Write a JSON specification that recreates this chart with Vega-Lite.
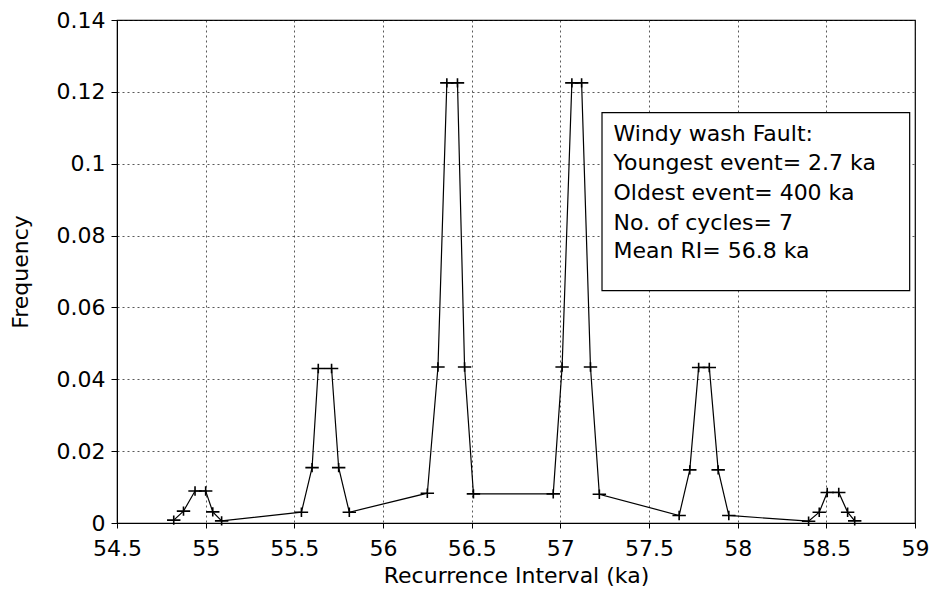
{
  "$schema": "https://vega.github.io/schema/vega-lite/v6.json",
  "autosize": "none",
  "width": 798,
  "height": 503,
  "padding": {"left": 117, "top": 20, "right": 16, "bottom": 72},
  "background": "white",
  "config": {
    "view": {"stroke": "black", "strokeWidth": 1.2},
    "font": "DejaVu Sans",
    "axis": {
      "labelFont": "DejaVu Sans",
      "titleFont": "DejaVu Sans",
      "labelFontSize": 22,
      "titleFontSize": 22,
      "titleFontWeight": "normal",
      "labelColor": "black",
      "titleColor": "black",
      "domainColor": "black",
      "tickColor": "black",
      "gridColor": "#222",
      "gridDash": [2, 3],
      "gridWidth": 1,
      "gridOpacity": 0.75
    }
  },
  "datasets": {
    "curve": [
      {"ri": 54.82, "freq": 0.0008},
      {"ri": 54.875, "freq": 0.0033},
      {"ri": 54.94, "freq": 0.0089},
      {"ri": 55.0, "freq": 0.0089},
      {"ri": 55.04, "freq": 0.0031},
      {"ri": 55.09, "freq": 0.0006},
      {"ri": 55.54, "freq": 0.003},
      {"ri": 55.6, "freq": 0.0154},
      {"ri": 55.635, "freq": 0.043},
      {"ri": 55.71, "freq": 0.043},
      {"ri": 55.75, "freq": 0.0154},
      {"ri": 55.81, "freq": 0.003},
      {"ri": 56.25, "freq": 0.0083},
      {"ri": 56.31, "freq": 0.0434},
      {"ri": 56.36, "freq": 0.1225},
      {"ri": 56.42, "freq": 0.1225},
      {"ri": 56.46, "freq": 0.0434},
      {"ri": 56.51, "freq": 0.0081},
      {"ri": 56.96, "freq": 0.0081},
      {"ri": 57.01, "freq": 0.0434},
      {"ri": 57.065, "freq": 0.1225},
      {"ri": 57.12, "freq": 0.1225},
      {"ri": 57.17, "freq": 0.0434},
      {"ri": 57.22, "freq": 0.008},
      {"ri": 57.67, "freq": 0.0021},
      {"ri": 57.73, "freq": 0.0148},
      {"ri": 57.78, "freq": 0.0433},
      {"ri": 57.84, "freq": 0.0433},
      {"ri": 57.89, "freq": 0.0148},
      {"ri": 57.95, "freq": 0.0021},
      {"ri": 58.4, "freq": 0.0005},
      {"ri": 58.46, "freq": 0.003},
      {"ri": 58.505, "freq": 0.0085},
      {"ri": 58.57, "freq": 0.0085},
      {"ri": 58.62, "freq": 0.003},
      {"ri": 58.66, "freq": 0.0006}
    ],
    "box": [
      {"x1": 57.235, "x2": 58.97, "y1": 0.0647, "y2": 0.1142}
    ],
    "notes": [
      {"x": 57.3, "y": 0.1083, "label": "Windy wash Fault:"},
      {"x": 57.3, "y": 0.1003, "label": "Youngest event= 2.7 ka"},
      {"x": 57.3, "y": 0.0919, "label": "Oldest event= 400 ka"},
      {"x": 57.3, "y": 0.0836, "label": "No. of cycles= 7"},
      {"x": 57.3, "y": 0.0758, "label": "Mean RI= 56.8 ka"}
    ]
  },
  "layer": [
    {
      "data": {"name": "curve"},
      "mark": {"type": "line", "color": "black", "strokeWidth": 1.2},
      "encoding": {
        "x": {
          "field": "ri", "type": "quantitative",
          "scale": {"domain": [54.5, 59], "nice": false, "zero": false},
          "axis": {
            "title": "Recurrence Interval (ka)",
            "values": [54.5, 55, 55.5, 56, 56.5, 57, 57.5, 58, 58.5, 59],
            "format": "~g",
            "tickSize": 5,
            "labelPadding": 10,
            "titlePadding": 6,
            "labelFlush": false
          }
        },
        "y": {
          "field": "freq", "type": "quantitative",
          "scale": {"domain": [0, 0.14], "nice": false},
          "axis": {
            "title": "Frequency",
            "values": [0, 0.02, 0.04, 0.06, 0.08, 0.1, 0.12, 0.14],
            "format": "~g",
            "tickSize": 6,
            "labelPadding": 6,
            "titlePadding": 24,
            "labelFlush": false
          }
        }
      }
    },
    {
      "data": {"name": "curve"},
      "mark": {"type": "point", "shape": "M-1,0L1,0M0,-0.7L0,0.7", "filled": false, "stroke": "black", "strokeWidth": 1.6, "size": 180, "opacity": 1},
      "encoding": {
        "x": {"field": "ri", "type": "quantitative"},
        "y": {"field": "freq", "type": "quantitative"}
      }
    },
    {
      "data": {"name": "box"},
      "mark": {"type": "rect", "fill": "white", "stroke": "black", "strokeWidth": 1.2},
      "encoding": {
        "x": {"field": "x1", "type": "quantitative"},
        "x2": {"field": "x2"},
        "y": {"field": "y1", "type": "quantitative"},
        "y2": {"field": "y2"}
      }
    },
    {
      "data": {"name": "notes"},
      "mark": {"type": "text", "align": "left", "baseline": "middle", "fontSize": 22, "font": "DejaVu Sans", "color": "black"},
      "encoding": {
        "x": {"field": "x", "type": "quantitative"},
        "y": {"field": "y", "type": "quantitative"},
        "text": {"field": "label"}
      }
    }
  ]
}
